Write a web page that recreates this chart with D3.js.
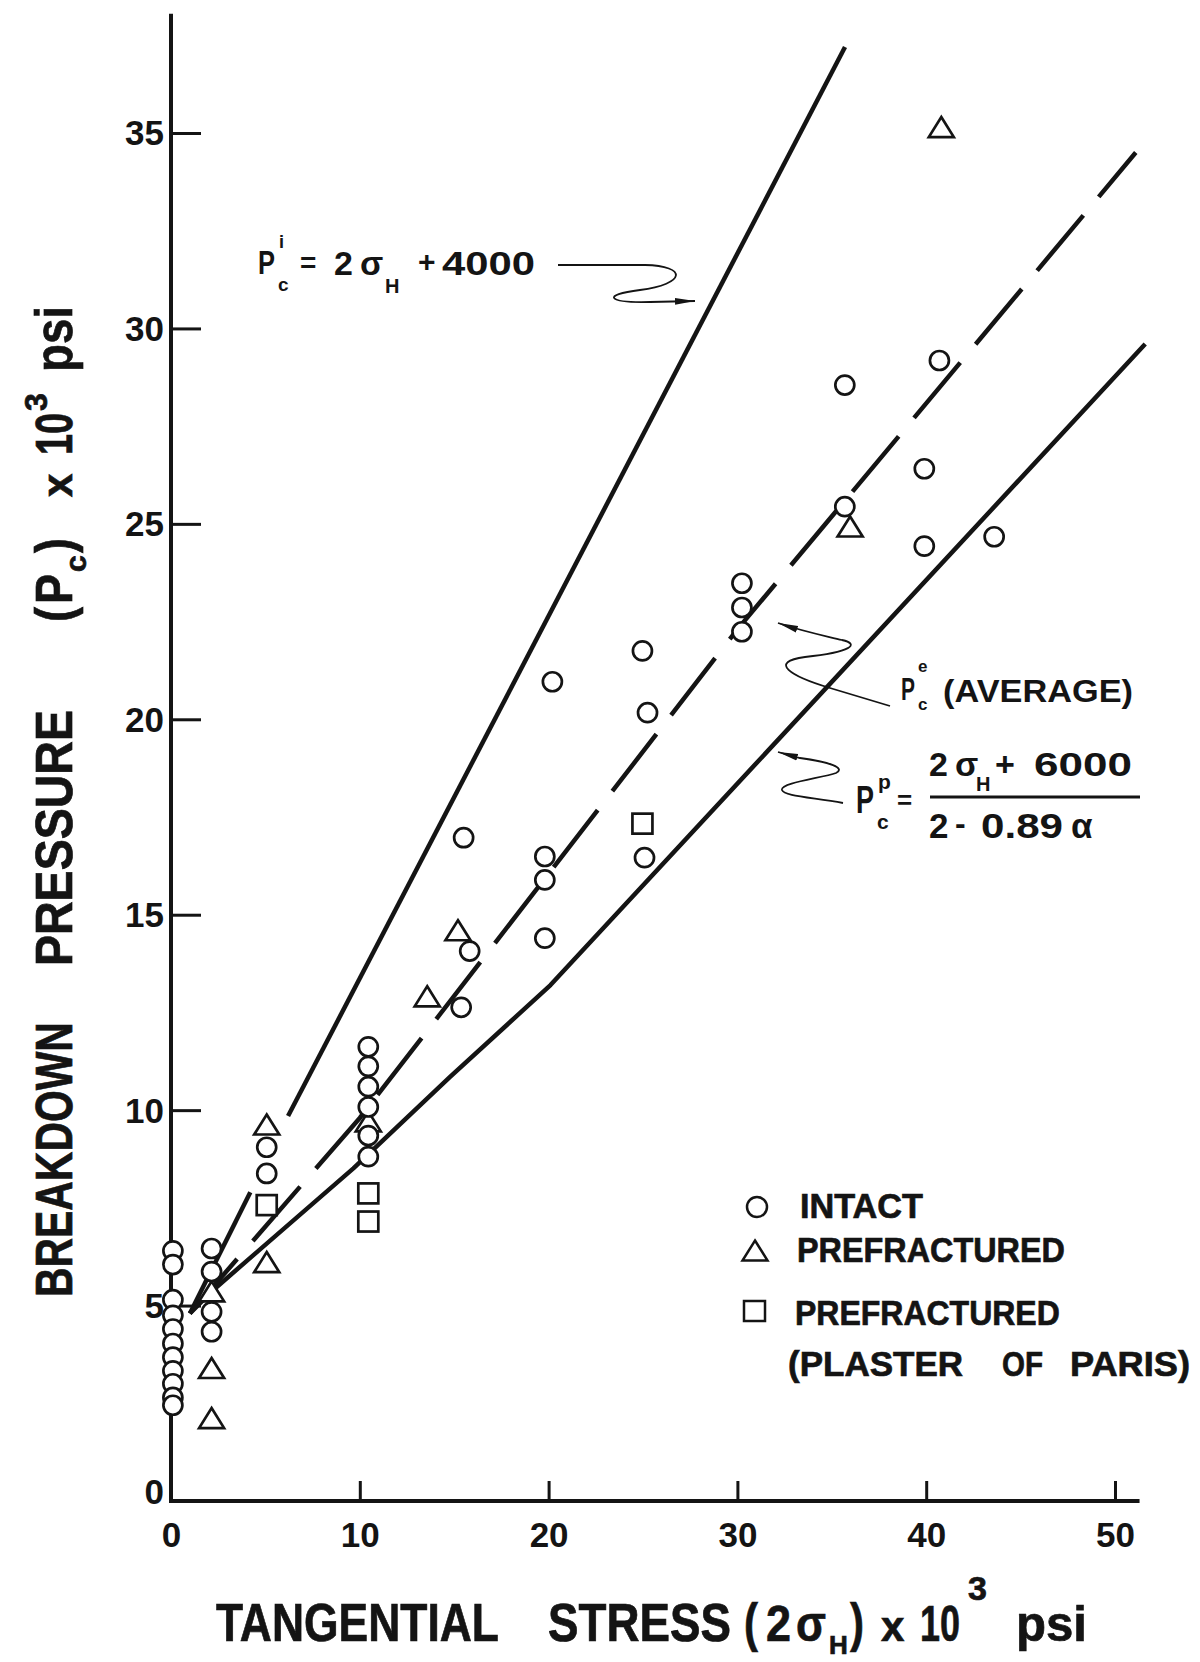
<!DOCTYPE html>
<html>
<head>
<meta charset="utf-8">
<script src="https://cdn.jsdelivr.net/npm/d3@7"></script>
<style>
  html, body { margin: 0; padding: 0; background: #fff; }
  svg { display: block; }
  text { font-family: "Liberation Sans", Arial, sans-serif; font-weight: 700; fill: #141414; }
  .heavy text { stroke: #141414; stroke-width: 0.7px; }
</style>
</head>
<body>
<svg id="chart" width="1200" height="1662"></svg>
<script>
// Breakdown pressure Pc vs tangential stress 2σH, both in 10^3 psi.

const xTicks = [0, 10, 20, 30, 40, 50];
const yTicks = [0, 5, 10, 15, 20, 25, 30, 35];

// Measured points: [2σH, Pc]
const intact = [
  [0.1, 6.4], [0.1, 6.05], [0.1, 5.15], [0.1, 4.75], [0.1, 4.4], [0.1, 4.03],
  [0.1, 3.68], [0.1, 3.33], [0.1, 3.0], [0.1, 2.65], [0.1, 2.45],
  [2.15, 6.46], [2.15, 5.87], [2.15, 4.84], [2.15, 4.33],
  [5.07, 9.05], [5.07, 8.38],
  [10.45, 11.62], [10.45, 11.12], [10.45, 10.6], [10.45, 10.08], [10.45, 9.35], [10.45, 8.81],
  [15.37, 12.63], [15.82, 14.07], [15.5, 16.97],
  [20.2, 20.96], [19.8, 16.49], [19.8, 15.89], [19.8, 14.4],
  [24.97, 21.75], [25.24, 20.17], [25.08, 16.46],
  [30.24, 23.48], [30.24, 22.86], [30.24, 22.24],
  [35.69, 28.55], [35.69, 25.44],
  [40.7, 29.18], [39.9, 26.41], [39.9, 24.43], [43.6, 24.67]
];
const prefractured = [
  [2.15, 5.35], [2.15, 3.39], [2.15, 2.11],
  [5.07, 9.62], [5.07, 6.1], [10.45, 9.7],
  [13.57, 12.9], [15.2, 14.59], [35.97, 24.92], [40.8, 35.14]
];
const plaster = [
  [5.07, 7.57], [10.45, 7.87], [10.45, 7.15], [24.97, 17.33]
];

// Curves: Pc(i) = 2σH + 4000 (drawn in two pieces), average, and Pc(p)
const initiationLow  = [[1.0, 4.8], [4.2, 7.9]];
const initiationHigh = [[6.2, 9.85], [35.7, 37.2]];
const averageCurve   = [[1.0, 4.8], [10, 9.8], [30, 22.3], [51.1, 34.5]];
const prefracCurve   = [[1.0, 4.8], [2.24, 5.4], [9.66, 8.51], [14.78, 10.85], [20.1, 13.2], [51.6, 29.6]];

const INK = "#141414";
const svg = d3.select("#chart");

const x = d3.scaleLinear().domain([0, 50]).range([171, 1115]);
const y = d3.scaleLinear().domain([0, 35]).range([1501, 133]);
const xMax = 51.3, yMax = 38.05;

// Text helper; `len` squeezes the glyphs horizontally to a given width.
function label(parent, s, px, py, size, o = {}) {
  const e = parent.append("text").attr("font-size", size).text(s);
  if (o.anchor) e.attr("text-anchor", o.anchor);
  if (o.len) {
    const natural = e.node().getComputedTextLength();
    const k = natural > 0 ? o.len / natural : 1;
    e.attr("x", 0).attr("y", 0).attr("transform", `translate(${px},${py}) scale(${k},1)`);
  } else {
    e.attr("x", px).attr("y", py);
  }
  return e;
}

// ---- axes ----
const axisLine = d3.line().x(d => x(d[0])).y(d => y(d[1]));
svg.append("path").attr("d", axisLine([[0, yMax], [0, 0], [xMax, 0]]))
  .attr("fill", "none").attr("stroke", INK).attr("stroke-width", 4).attr("stroke-linejoin", "miter");

const gx = svg.append("g").attr("transform", `translate(0,${y(0)})`)
  .call(d3.axisBottom(x).tickValues(xTicks).tickSizeInner(-20).tickSizeOuter(0).tickPadding(21));
gx.select(".domain").remove();
gx.selectAll(".tick line").attr("stroke", INK).attr("stroke-width", 3);
gx.selectAll(".tick text").attr("font-size", 35).attr("fill", INK)
  .attr("font-family", null);

const gy = svg.append("g").attr("transform", `translate(${x(0)},0)`)
  .call(d3.axisLeft(y).tickValues(yTicks).tickSizeInner(-30).tickSizeOuter(0).tickPadding(7));
gy.select(".domain").remove();
gy.selectAll(".tick line").attr("stroke", INK).attr("stroke-width", 3);
gy.selectAll(".tick text").attr("font-size", 35).attr("fill", INK)
  .attr("font-family", null)
  .attr("dy", d => d === 0 ? "0.08em" : "0.34em");

// ---- curves ----
const curve = d3.line().x(d => x(d[0])).y(d => y(d[1]));
const curves = svg.append("g").attr("fill", "none").attr("stroke", INK)
  .attr("stroke-width", 4.5).attr("stroke-linecap", "butt");
curves.append("path").attr("d", curve(initiationLow));
curves.append("path").attr("d", curve(initiationHigh));
curves.append("path").attr("d", curve(prefracCurve)).attr("stroke-linejoin", "round");
curves.append("path").attr("d", curve(averageCurve)).attr("stroke-dasharray", "72 24");

// ---- markers ----
const tri = "M0,-10.5L12.5,9.5L-12.5,9.5Z";
const marks = svg.append("g").attr("fill", "#fff").attr("stroke", INK).attr("stroke-width", 2.7);
marks.selectAll("rect.pl").data(plaster).join("rect").attr("class", "pl")
  .attr("x", d => x(d[0]) - 10).attr("y", d => y(d[1]) - 10).attr("width", 20).attr("height", 20);
marks.selectAll("path.pf").data(prefractured).join("path").attr("class", "pf")
  .attr("d", tri).attr("transform", d => `translate(${x(d[0])},${y(d[1])})`);
marks.selectAll("circle.in").data(intact).join("circle").attr("class", "in")
  .attr("cx", d => x(d[0])).attr("cy", d => y(d[1])).attr("r", 9.5);

// ---- legend ----
const lg = svg.append("g").attr("class", "heavy");
lg.append("circle").attr("cx", 757).attr("cy", 1207).attr("r", 10)
  .attr("fill", "#fff").attr("stroke", INK).attr("stroke-width", 2.5);
lg.append("path").attr("d", tri).attr("transform", "translate(755,1251)")
  .attr("fill", "#fff").attr("stroke", INK).attr("stroke-width", 2.5);
lg.append("rect").attr("x", 744).attr("y", 1301).attr("width", 21).attr("height", 20)
  .attr("fill", "#fff").attr("stroke", INK).attr("stroke-width", 2.5);
label(lg, "INTACT", 800, 1218, 35, { len: 123 });
label(lg, "PREFRACTURED", 797, 1262, 35, { len: 268 });
label(lg, "PREFRACTURED", 795, 1325, 35, { len: 265 });
label(lg, "(PLASTER", 788, 1376, 35, { len: 175 });
label(lg, "OF", 1002, 1376, 35, { len: 41 });
label(lg, "PARIS)", 1070, 1376, 35, { len: 120 });

// ---- annotations ----
const defs = svg.append("defs");
defs.append("marker").attr("id", "head").attr("viewBox", "0 0 20 8")
  .attr("refX", 20).attr("refY", 4).attr("markerWidth", 20).attr("markerHeight", 8)
  .attr("markerUnits", "userSpaceOnUse").attr("orient", "auto")
  .append("path").attr("d", "M0,0.6L20,4L0,7.4Z").attr("fill", INK);

const ann = svg.append("g");
const leaders = [
  "M558,265 L645,265 C688,266 686,284 640,290 C600,295 608,303 650,302 L695,301",
  "M890,706 L830,688 C790,676 768,662 805,657 C852,652 860,644 842,640 C826,636 805,632 778,623",
  "M843,803 C808,797 784,796 782,790 C780,783 822,778 836,773 C846,768 830,762 800,758 L778,752"
];
ann.selectAll("path.lead").data(leaders).join("path").attr("class", "lead").attr("d", d => d)
  .attr("fill", "none").attr("stroke", INK).attr("stroke-width", 1.8).attr("marker-end", "url(#head)");

// Pc(i) = 2σH + 4000
label(ann, "P", 258, 274, 34, { len: 17 });
label(ann, "i", 279, 248, 18);
label(ann, "c", 278, 291, 19);
label(ann, "=", 300, 272, 28);
label(ann, "2", 334, 275, 34);
label(ann, "σ", 360, 275, 34);
label(ann, "H", 385, 293, 20);
label(ann, "+", 418, 272, 30);
label(ann, "4000", 442, 275, 34, { len: 93 });

// Pc(e) (AVERAGE)
label(ann, "P", 901, 700, 31, { len: 14 });
label(ann, "e", 918, 672, 17);
label(ann, "c", 918, 710, 17);
label(ann, "(AVERAGE)", 943, 702, 31, { len: 190 });

// Pc(p) = (2σH + 6000) / (2 - 0.89 α)
label(ann, "P", 856, 813, 38, { len: 18 });
label(ann, "p", 878, 789, 21);
label(ann, "c", 877, 829, 21);
label(ann, "=", 897, 809, 26);
label(ann, "2", 929, 776, 34);
label(ann, "σ", 955, 776, 34);
label(ann, "H", 976, 791, 20);
label(ann, "+", 995, 776, 34);
label(ann, "6000", 1034, 776, 34, { len: 98 });
ann.append("line").attr("x1", 930).attr("x2", 1140).attr("y1", 797).attr("y2", 797)
  .attr("stroke", INK).attr("stroke-width", 3.2);
label(ann, "2", 929, 838, 35);
label(ann, "-", 955, 834, 32);
label(ann, "0.89", 981, 838, 35, { len: 82 });
label(ann, "α", 1071, 838, 35);

// ---- axis titles ----
const tx = svg.append("g").attr("class", "heavy");
label(tx, "TANGENTIAL", 216, 1641, 53, { len: 283 });
label(tx, "STRESS", 548, 1641, 53, { len: 183 });
label(tx, "(", 744, 1641, 53, { len: 14 });
label(tx, "2", 766, 1641, 50, { len: 25 });
label(tx, "σ", 796, 1641, 50, { len: 30 });
label(tx, "H", 829, 1654, 26);
label(tx, ")", 850, 1641, 53, { len: 14 });
label(tx, "x", 881, 1641, 42);
label(tx, "10", 920, 1641, 50, { len: 40 });
label(tx, "3", 968, 1600, 34);
label(tx, "psi", 1016, 1641, 50, { len: 71 });

const ty = svg.append("g").attr("class", "heavy").attr("transform", "rotate(-90)");
const bx = 72;
label(ty, "BREAKDOWN", -1297, bx, 52, { len: 275 });
label(ty, "PRESSURE", -966, bx, 52, { len: 256 });
label(ty, "(", -622, bx, 52, { len: 15 });
label(ty, "P", -604, bx, 52, { len: 30 });
label(ty, "c", -572, bx + 14, 30);
label(ty, ")", -553, bx, 52, { len: 15 });
label(ty, "x", -497, bx, 42);
label(ty, "10", -455, bx, 52, { len: 42 });
label(ty, "3", -411, bx - 25, 32);
label(ty, "psi", -372, bx, 52, { len: 66 });
</script>
</body>
</html>
